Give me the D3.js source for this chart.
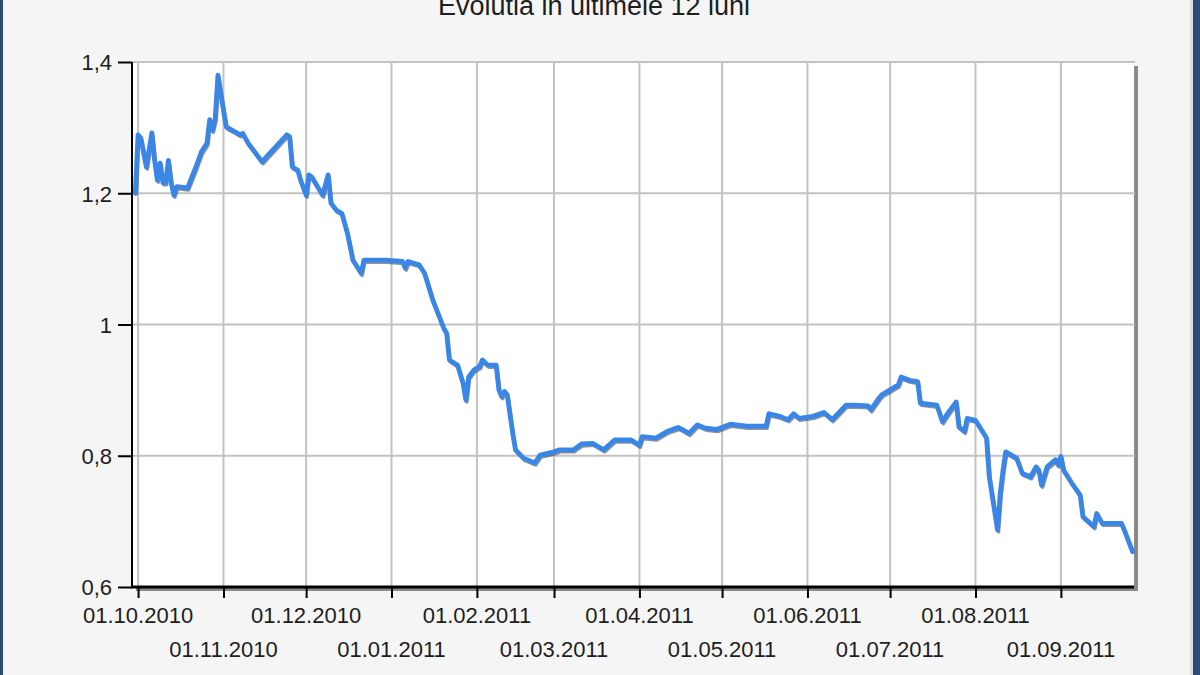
<!DOCTYPE html>
<html>
<head>
<meta charset="utf-8">
<script src="https://cdn.jsdelivr.net/npm/d3@7"></script>
<style>
  html, body { margin: 0; padding: 0; background: #f5f5f5; }
  svg { display: block; }
  text { font-family: "Liberation Sans", Arial, sans-serif; fill: #1e1e1e; }
</style>
</head>
<body>
<svg id="chart" width="1200" height="675"></svg>
<script>
const title = "Evolutia in ultimele 12 luni";

const dates = [
  "2010-09-30","2010-10-01","2010-10-02","2010-10-04","2010-10-06","2010-10-07","2010-10-08","2010-10-09",
  "2010-10-10","2010-10-11","2010-10-12","2010-10-13","2010-10-14","2010-10-15","2010-10-19","2010-10-22",
  "2010-10-24","2010-10-26","2010-10-27","2010-10-28","2010-10-29","2010-10-30","2010-10-31","2010-11-02",
  "2010-11-05","2010-11-07","2010-11-08","2010-11-10","2010-11-15","2010-11-24","2010-11-25","2010-11-26",
  "2010-11-28","2010-11-29","2010-12-01","2010-12-02","2010-12-03","2010-12-07","2010-12-09","2010-12-10",
  "2010-12-12","2010-12-14","2010-12-16","2010-12-18","2010-12-21","2010-12-22","2010-12-30","2011-01-05",
  "2011-01-06","2011-01-07","2011-01-11","2011-01-13","2011-01-16","2011-01-20","2011-01-21","2011-01-22",
  "2011-01-25","2011-01-27","2011-01-28","2011-01-29","2011-01-31","2011-02-02","2011-02-03","2011-02-05",
  "2011-02-08","2011-02-09","2011-02-10","2011-02-11","2011-02-12","2011-02-14","2011-02-15","2011-02-18",
  "2011-02-22","2011-02-24","2011-03-01","2011-03-03","2011-03-08","2011-03-11","2011-03-15","2011-03-19",
  "2011-03-23","2011-03-29","2011-04-01","2011-04-02","2011-04-07","2011-04-11","2011-04-15","2011-04-17",
  "2011-04-19","2011-04-22","2011-04-25","2011-04-29","2011-05-04","2011-05-10","2011-05-17","2011-05-18",
  "2011-05-22","2011-05-25","2011-05-27","2011-05-29","2011-06-03","2011-06-07","2011-06-10","2011-06-15",
  "2011-06-18","2011-06-23","2011-06-24","2011-06-27","2011-06-28","2011-07-04","2011-07-05","2011-07-08",
  "2011-07-11","2011-07-12","2011-07-18","2011-07-20","2011-07-22","2011-07-25","2011-07-26","2011-07-28",
  "2011-07-29","2011-08-01","2011-08-04","2011-08-05","2011-08-06","2011-08-09","2011-08-10","2011-08-11",
  "2011-08-12","2011-08-16","2011-08-18","2011-08-21","2011-08-23","2011-08-24","2011-08-25","2011-08-27",
  "2011-08-30","2011-08-31","2011-09-01","2011-09-02","2011-09-05","2011-09-08","2011-09-09","2011-09-13",
  "2011-09-14","2011-09-16","2011-09-21","2011-09-23","2011-09-24","2011-09-27"
];
const values = [
  1.200,1.289,1.284,1.240,1.292,1.250,1.220,1.246,
  1.216,1.216,1.250,1.216,1.197,1.210,1.208,1.240,
  1.263,1.276,1.312,1.296,1.314,1.380,1.352,1.301,
  1.294,1.289,1.291,1.276,1.248,1.289,1.286,1.240,
  1.235,1.220,1.197,1.228,1.225,1.197,1.228,1.185,
  1.174,1.169,1.139,1.098,1.078,1.098,1.098,1.096,
  1.086,1.096,1.091,1.078,1.037,0.994,0.987,0.946,
  0.938,0.910,0.885,0.920,0.931,0.936,0.946,0.938,
  0.938,0.900,0.890,0.898,0.893,0.834,0.809,0.796,
  0.789,0.801,0.806,0.809,0.809,0.818,0.819,0.809,
  0.824,0.824,0.816,0.829,0.827,0.837,0.843,0.839,
  0.834,0.847,0.842,0.840,0.848,0.845,0.845,0.864,
  0.860,0.855,0.864,0.857,0.860,0.866,0.855,0.877,
  0.877,0.876,0.870,0.888,0.893,0.908,0.920,0.915,
  0.913,0.880,0.877,0.852,0.865,0.882,0.844,0.837,
  0.857,0.854,0.834,0.827,0.768,0.687,0.743,0.778,
  0.806,0.796,0.773,0.768,0.783,0.778,0.755,0.783,
  0.794,0.786,0.799,0.778,0.758,0.740,0.707,0.692,
  0.712,0.697,0.697,0.697,0.687,0.654
];

const yTicks = [0.6, 0.8, 1.0, 1.2, 1.4];
const yTickLabels = ["0,6", "0,8", "1", "1,2", "1,4"];
const xTickDates = ["2010-10-01","2010-11-01","2010-12-01","2011-01-01","2011-02-01","2011-03-01",
                    "2011-04-01","2011-05-01","2011-06-01","2011-07-01","2011-08-01","2011-09-01"];
const xTickLabels = ["01.10.2010","01.11.2010","01.12.2010","01.01.2011","01.02.2011","01.03.2011",
                     "01.04.2011","01.05.2011","01.06.2011","01.07.2011","01.08.2011","01.09.2011"];
const yDomain = [0.6, 1.4];
const xDomain = ["2010-09-28T19:00:00", "2011-09-27T13:00:00"];

const parse = d3.isoParse;
const data = dates.map((d, i) => ({ date: parse(d), value: values[i] }));

const svg = d3.select("#chart");
const L = 132, R = 1134, T = 62, B = 587;

const x = d3.scaleTime().domain(xDomain.map(parse)).range([L, R]);
const y = d3.scaleLinear().domain(yDomain).range([B, T]);

// window borders
svg.append("rect").attr("x", 0).attr("y", 0).attr("width", 1200).attr("height", 675).attr("fill", "#f5f5f5");
svg.append("rect").attr("x", 0).attr("y", 0).attr("width", 3).attr("height", 675).attr("fill", "#2d4b79");
svg.append("rect").attr("x", 1190).attr("y", 0).attr("width", 3).attr("height", 675).attr("fill", "#dedede");
svg.append("rect").attr("x", 1193).attr("y", 0).attr("width", 7).attr("height", 675).attr("fill", "#2d4b79");

// title
svg.append("text").attr("x", 594).attr("y", 15).attr("text-anchor", "middle")
  .style("font-size", "27px").text(title);

// plot shadow
svg.append("rect").attr("x", R).attr("y", T + 4).attr("width", 4).attr("height", B - T).attr("fill", "#8a8a8a");
svg.append("rect").attr("x", L + 4).attr("y", B).attr("width", R - L).attr("height", 4).attr("fill", "#8a8a8a");
// plot background
svg.append("rect").attr("x", L).attr("y", T).attr("width", R - L).attr("height", B - T).attr("fill", "#ffffff");

// gridlines
const xTicks = xTickDates.map(parse);
svg.append("g").selectAll("line").data(xTicks).join("line")
  .attr("x1", d => x(d)).attr("x2", d => x(d)).attr("y1", T).attr("y2", B)
  .attr("stroke", "#c2c2c2").attr("stroke-width", 2);
svg.append("g").selectAll("line").data(yTicks.slice(1)).join("line")
  .attr("x1", L).attr("x2", R + 1).attr("y1", d => y(d)).attr("y2", d => y(d))
  .attr("stroke", "#c2c2c2").attr("stroke-width", 2);

// y axis
const yAxis = d3.axisLeft(y).tickValues(yTicks).tickSize(14).tickPadding(6)
  .tickFormat((d, i) => yTickLabels[i]);
const gy = svg.append("g").attr("transform", `translate(${L},0)`).call(yAxis);
gy.select(".domain").remove();
gy.selectAll(".tick line").attr("stroke", "#000").attr("stroke-width", 2);
gy.selectAll(".tick text").style("font-size", "22px").attr("fill", "#1e1e1e")
  .attr("font-family", "Liberation Sans, Arial, sans-serif").attr("dy", "0.36em");

// x axis
const xAxis = d3.axisBottom(x).tickValues(xTicks).tickSize(11).tickFormat("");
const gx = svg.append("g").attr("transform", `translate(0,${B})`).call(xAxis);
gx.select(".domain").remove();
gx.selectAll(".tick line").attr("stroke", "#000").attr("stroke-width", 2);
svg.append("g").selectAll("text").data(xTicks).join("text")
  .attr("x", d => x(d))
  .attr("y", (d, i) => i % 2 === 0 ? 623 : 657)
  .attr("text-anchor", "middle")
  .style("font-size", "22px")
  .text((d, i) => xTickLabels[i]);

// axis lines
svg.append("line").attr("x1", L).attr("x2", L).attr("y1", T).attr("y2", B + 1)
  .attr("stroke", "#000").attr("stroke-width", 2);
svg.append("line").attr("x1", L - 1).attr("x2", R).attr("y1", B).attr("y2", B)
  .attr("stroke", "#000").attr("stroke-width", 3);

// series line
const line = d3.line().x(d => x(d.date)).y(d => y(d.value));
svg.append("path").datum(data).attr("d", line)
  .attr("fill", "none").attr("stroke", "#1a2a40").attr("stroke-opacity", 0.5)
  .attr("stroke-width", 3.5).attr("stroke-linejoin", "round")
  .attr("transform", "translate(1,2)");
svg.append("path").datum(data).attr("d", line)
  .attr("fill", "none").attr("stroke", "#3a86e6").attr("stroke-width", 4.8)
  .attr("stroke-linejoin", "round").attr("stroke-linecap", "round");
</script>
</body>
</html>
